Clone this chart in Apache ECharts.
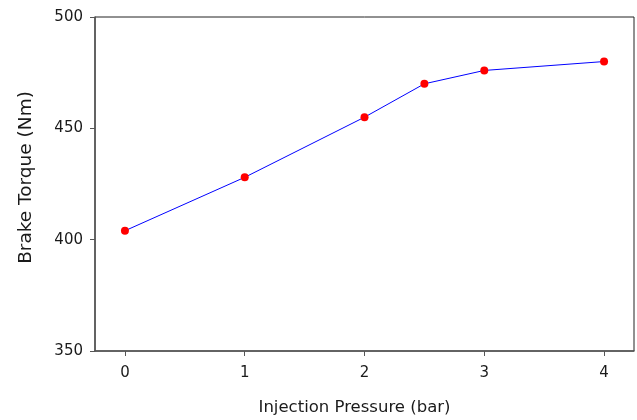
<!DOCTYPE html>
<html><head><meta charset="utf-8">
<script src="https://cdn.jsdelivr.net/npm/echarts@6/dist/echarts.min.js"></script>
<style>html,body{margin:0;padding:0;background:#fff}#c{width:637px;height:420px}</style>
</head><body><div id="c"></div>
<script>
const pressure = [0, 1, 2, 2.5, 3, 4];
const torque = [404, 428, 455, 470, 476, 480];
const xTicks = [0, 1, 2, 3, 4];
const yTicks = [350, 400, 450, 500];

const chart = echarts.init(document.getElementById('c'), null, {renderer: 'canvas'});
const font = 'DejaVu Sans, Verdana, sans-serif';
chart.setOption({
  animation: false,
  grid: {left: 95, right: 3, top: 17, bottom: 69, containLabel: false, outerBoundsMode: 'none',
         show: true, borderColor: '#222', borderWidth: 1},
  xAxis: {
    type: 'value', min: -0.25, max: 4.25, interval: 1,
    name: 'Injection Pressure (bar)', nameLocation: 'middle', nameGap: 48,
    nameTextStyle: {fontFamily: font, fontSize: 16.5, color: '#1a1a1a', padding: [0, 20, 0, 0]},
    axisLine: {show: true, onZero: false, lineStyle: {color: '#555', width: 1.5}},
    axisTick: {show: true, length: 5, lineStyle: {color: '#555'}, customValues: xTicks},
    axisLabel: {fontFamily: font, fontSize: 15, color: '#1a1a1a', margin: 15, customValues: xTicks},
    splitLine: {show: false}
  },
  yAxis: {
    type: 'value', min: 350, max: 500, interval: 50,
    name: 'Brake Torque (Nm)', nameLocation: 'middle', nameGap: 59,
    nameTextStyle: {fontFamily: font, fontSize: 18.5, color: '#1a1a1a', padding: [0, 0, 0, 13]},
    axisLine: {show: true, onZero: false, lineStyle: {color: '#555', width: 1.5}},
    axisTick: {show: true, length: 5, lineStyle: {color: '#555'}, customValues: yTicks},
    axisLabel: {fontFamily: font, fontSize: 15, color: '#1a1a1a', margin: 12, customValues: yTicks},
    splitLine: {show: false}
  },
  series: [{
    type: 'line',
    data: pressure.map((p, i) => [p, torque[i]]),
    lineStyle: {color: '#0000ff', width: 1},
    itemStyle: {color: '#ff0000'},
    symbol: 'circle', symbolSize: 8, showSymbol: true
  }]
});
</script></body></html>
